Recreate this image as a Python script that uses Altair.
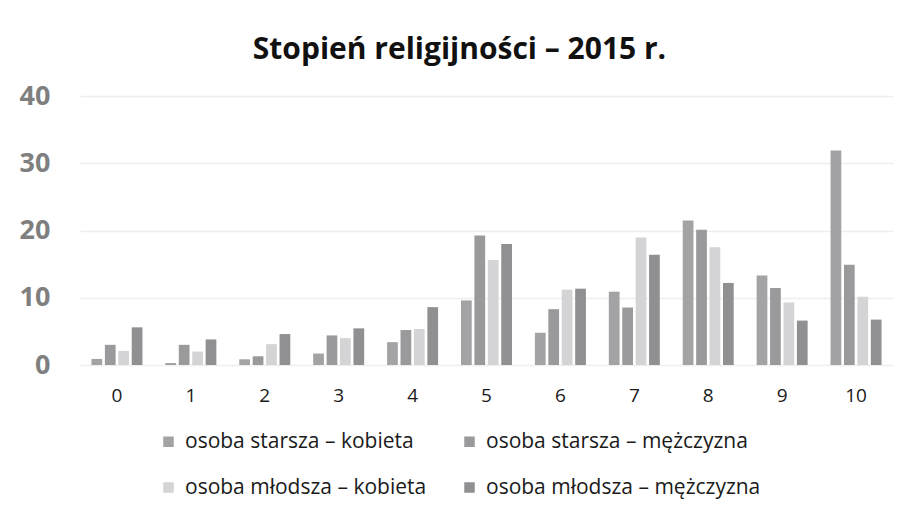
import altair as alt
import pandas as pd

categories = ["0", "1", "2", "3", "4", "5", "6", "7", "8", "9", "10"]
series = [
    "osoba starsza – kobieta",
    "osoba starsza – mężczyzna",
    "osoba młodsza – kobieta",
    "osoba młodsza – mężczyzna",
]
starsza_kobieta = [0.9, 0.3, 0.85, 1.7, 3.4, 9.6, 4.8, 10.9, 21.5, 13.3, 31.9]
starsza_mezczyzna = [3.0, 3.0, 1.3, 4.4, 5.2, 19.25, 8.3, 8.55, 20.1, 11.45, 14.9]
mlodsza_kobieta = [2.1, 2.0, 3.1, 4.0, 5.35, 15.6, 11.2, 18.95, 17.5, 9.3, 10.15]
mlodsza_mezczyzna = [5.6, 3.8, 4.6, 5.45, 8.6, 18.0, 11.35, 16.4, 12.2, 6.6, 6.75]
colors = ["#a3a3a5", "#9a9a9c", "#d4d4d6", "#909092"]

values = [starsza_kobieta, starsza_mezczyzna, mlodsza_kobieta, mlodsza_mezczyzna]
rows = []
for s, vals in zip(series, values):
    for c, v in zip(categories, vals):
        rows.append({"kat": c, "seria": s, "wartosc": v})
df = pd.DataFrame(rows)

font = "Open Sans"

chart = (
    alt.Chart(df)
    .mark_bar()
    .encode(
        x=alt.X(
            "kat:N",
            sort=categories,
            scale=alt.Scale(paddingInner=0.31, paddingOuter=0.155),
            axis=alt.Axis(
                title=None,
                labelAngle=0,
                labelFont=font,
                labelFontSize=19,
                labelColor="#1a1a1a",
                labelPadding=21,
                ticks=False,
                domain=False,
                grid=False,
            ),
        ),
        xOffset=alt.XOffset(
            "seria:N", sort=series, scale=alt.Scale(paddingInner=0.2, paddingOuter=0)
        ),
        y=alt.Y(
            "wartosc:Q",
            scale=alt.Scale(domain=[0, 40]),
            axis=alt.Axis(
                title=None,
                values=[0, 10, 20, 30, 40],
                labelFont=font,
                labelFontSize=27,
                labelFontWeight="bold",
                labelColor="#7f7f7f",
                labelPadding=30,
                ticks=False,
                domain=False,
                gridColor="#eeeeee",
                gridWidth=1.5,
            ),
        ),
        color=alt.Color(
            "seria:N",
            sort=series,
            scale=alt.Scale(domain=series, range=colors),
            legend=alt.Legend(
                title=None,
                orient="none",
                direction="horizontal",
                legendX=78,
                legendY=335,
                columns=2,
                columnPadding=32,
                rowPadding=24,
                symbolType="square",
                symbolSize=110,
                symbolStrokeWidth=0,
                labelFont=font,
                labelFontSize=21,
                labelColor="#1a1a1a",
                labelOffset=6,
                labelLimit=0,
            ),
        ),
    )
    .properties(
        width=813,
        height=269,
        title=alt.TitleParams(
            "Stopień religijności – 2015 r.",
            font=font,
            fontSize=30,
            fontWeight="bold",
            color="#111111",
            anchor="middle",
            offset=17,
            dx=-27,
        ),
        autosize=alt.AutoSizeParams(type="none"),
        padding={"left": 72, "top": 88, "right": 7, "bottom": 140},
    )
    .configure_view(stroke=None)
)

chart.save("out.html", embed_options={"renderer": "svg", "actions": False})
